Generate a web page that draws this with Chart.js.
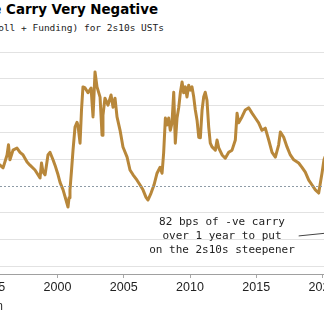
<!DOCTYPE html>
<html>
<head>
<meta charset="utf-8">
<script src="https://cdn.jsdelivr.net/npm/chart.js@4/dist/chart.umd.min.js"></script>
<style>
  html, body { margin: 0; padding: 0; background: #fff; }
  body { width: 324px; height: 321px; overflow: hidden; position: relative; }
  #wrap { position: absolute; left: -60px; top: 0; width: 444px; height: 321px; }
  .title { position: absolute; right: 166px; top: 1px; width: max-content; white-space: nowrap;
    font: bold 13.4px "DejaVu Sans", sans-serif; line-height: 18px; color: #000; }
  .sub { position: absolute; right: 160px; top: 22px; width: max-content; white-space: nowrap;
    font: 9.5px "DejaVu Sans Mono", monospace; line-height: 12px; color: #222; }
  .note { position: absolute; left: 122px; top: 215px; width: 200px; text-align: center;
    font: 11px "DejaVu Sans Mono", monospace; line-height: 14px; color: #222; white-space: nowrap; }
  .src { position: absolute; right: 321px; top: 299px; width: max-content; white-space: nowrap;
    font: 12px "Liberation Sans", Arial, sans-serif; line-height: 14px; color: #333; }
</style>
</head>
<body>
<div class="title">2s10s Curve Carry Very Negative</div>
<div class="sub">1Y Carry (Roll + Funding) for 2s10s USTs</div>
<div id="wrap"><canvas id="carry-chart"></canvas></div>
<div class="note">82 bps of -ve carry<br>over 1 year to put<br>on the 2s10s steepener</div>
<div class="src">Source: Bloomberg, own calculation</div>

<script>
// 1y carry of 2s10s steepener, bps (decimal year -> value)
var dates = [
  1995.45, 1995.66, 1995.89, 1996.19, 1996.30, 1996.41, 1996.64, 1996.94, 1997.17, 1997.40,
  1997.70, 1997.92, 1998.30, 1998.68, 1998.79, 1998.91, 1999.06, 1999.28, 1999.43, 1999.66,
  1999.81, 2000.04, 2000.19, 2000.42, 2000.64, 2000.79, 2000.87, 2000.94, 2001.06, 2001.17,
  2001.32, 2001.47, 2001.55, 2001.70, 2001.81, 2001.92, 2002.08, 2002.30, 2002.53, 2002.68,
  2002.83, 2002.98, 2003.21, 2003.36, 2003.43, 2003.58, 2003.81, 2004.04, 2004.19, 2004.34,
  2004.49, 2004.72, 2004.94, 2005.25, 2005.47, 2005.70, 2006.00, 2006.23, 2006.45, 2006.68,
  2006.83, 2007.06, 2007.28, 2007.51, 2007.74, 2007.89, 2008.01, 2008.14, 2008.26, 2008.39,
  2008.51, 2008.64, 2008.77, 2008.89, 2009.02, 2009.15, 2009.27, 2009.40, 2009.52, 2009.65,
  2009.77, 2009.90, 2010.02, 2010.15, 2010.28, 2010.40, 2010.53, 2010.66, 2010.78, 2010.91,
  2011.03, 2011.15, 2011.28, 2011.41, 2011.53, 2011.66, 2011.91, 2012.04, 2012.17, 2012.42,
  2012.66, 2012.92, 2013.17, 2013.42, 2013.55, 2013.67, 2013.92, 2014.17, 2014.43, 2014.68,
  2014.93, 2015.18, 2015.43, 2015.68, 2015.94, 2016.19, 2016.44, 2016.69, 2016.82, 2017.07,
  2017.32, 2017.57, 2017.83, 2018.20, 2018.45, 2018.70, 2018.96, 2019.21, 2019.46, 2019.71,
  2019.96, 2020.11, 2020.20
];
var carry = [
  42, 39, 34, 58, 77, 49, 67, 71, 63, 58,
  45, 39, 30, 15, 43, 26, 21, 58, 63, 49,
  39, 21, 7, -7, -26, -39, -22, -7, 30, 67,
  110, 119, 112, 80, 142, 185, 183, 174, 183, 129,
  213, 185, 166, 95, 132, 164, 151, 170, 147, 164,
  129, 104, 73, 54, 30, 21, 11, 2, -7, -21,
  -26, -13, 2, 24, 35, 24, 62, 127, 114, 127,
  104, 118, 175, 80, 127, 147, 174, 194, 174, 185,
  166, 188, 179, 185, 166, 142, 123, 91, 90, 142,
  166, 175, 160, 110, 80, 73, 67, 86, 71, 58,
  52, 63, 67, 86, 136, 118, 129, 142, 146, 136,
  127, 118, 104, 108, 86, 63, 54, 77, 101, 91,
  73, 58, 49, 43, 35, 26, 11, 2, -7, -13,
  24, 49, 55
];
var yearTicks = [1995, 2000, 2005, 2010, 2015, 2020];
var carryTicks = [-150, -100, -50, 0, 50, 100, 150, 200, 250];

var points = dates.map(function (d, i) { return { x: d, y: carry[i] }; });

// dashed zero line + pointer from the note towards the latest print
var overlay = {
  id: 'overlay',
  afterDatasetsDraw: function (chart) {
    var ctx = chart.ctx, xs = chart.scales.x, ys = chart.scales.y, a = chart.chartArea;
    var y0 = Math.round(ys.getPixelForValue(0)) + 0.5;
    ctx.save();
    ctx.strokeStyle = '#8e9ba6';
    ctx.lineWidth = 1;
    ctx.setLineDash([2, 2]);
    ctx.beginPath();
    ctx.moveTo(a.left, y0);
    ctx.lineTo(a.right, y0);
    ctx.stroke();
    ctx.setLineDash([]);
    ctx.strokeStyle = '#444';
    ctx.beginPath();
    ctx.moveTo(xs.getPixelForValue(2018.2), ys.getPixelForValue(-93));
    ctx.lineTo(xs.getPixelForValue(2020.6), ys.getPixelForValue(-87));
    ctx.stroke();
    ctx.restore();
  }
};

new Chart(document.getElementById('carry-chart'), {
  type: 'line',
  data: {
    datasets: [{
      data: points,
      borderColor: '#b8873a',
      borderWidth: 3,
      borderJoinStyle: 'round',
      pointRadius: 0,
      tension: 0,
      fill: false
    }]
  },
  options: {
    responsive: true,
    maintainAspectRatio: false,
    animation: false,
    layout: { padding: { top: 44, left: 0, right: 0, bottom: 0 } },
    plugins: { legend: { display: false }, tooltip: { enabled: false } },
    scales: {
      x: {
        type: 'linear',
        min: 1991.13,
        max: 2024.64,
        afterBuildTicks: function (scale) {
          scale.ticks = yearTicks.map(function (v) { return { value: v }; });
        },
        afterFit: function (scale) {
          scale.height = 47;
          scale.paddingLeft = 0;
          scale.paddingRight = 0;
        },
        grid: { drawOnChartArea: false, drawTicks: true, tickLength: 4, color: '#a8a8a8' },
        border: { display: true, color: '#a0a0a0', width: 1 },
        ticks: {
          padding: 2,
          color: '#222',
          maxRotation: 0,
          autoSkip: false,
          font: { family: 'Liberation Sans', size: 12.5 },
          callback: function (v) { return String(v); }
        }
      },
      y: {
        position: 'right',
        min: -164,
        max: 265,
        afterBuildTicks: function (scale) {
          scale.ticks = carryTicks.map(function (v) { return { value: v }; });
        },
        afterFit: function (scale) {
          scale.width = 0;
          scale.paddingTop = 0;
          scale.paddingBottom = 0;
        },
        grid: {
          drawTicks: false,
          color: function (c) { return c.tick && c.tick.value === 0 ? 'rgba(0,0,0,0)' : '#e2e2e2'; }
        },
        border: { display: false },
        ticks: { display: false }
      }
    }
  },
  plugins: [overlay]
});
</script>
</body>
</html>
